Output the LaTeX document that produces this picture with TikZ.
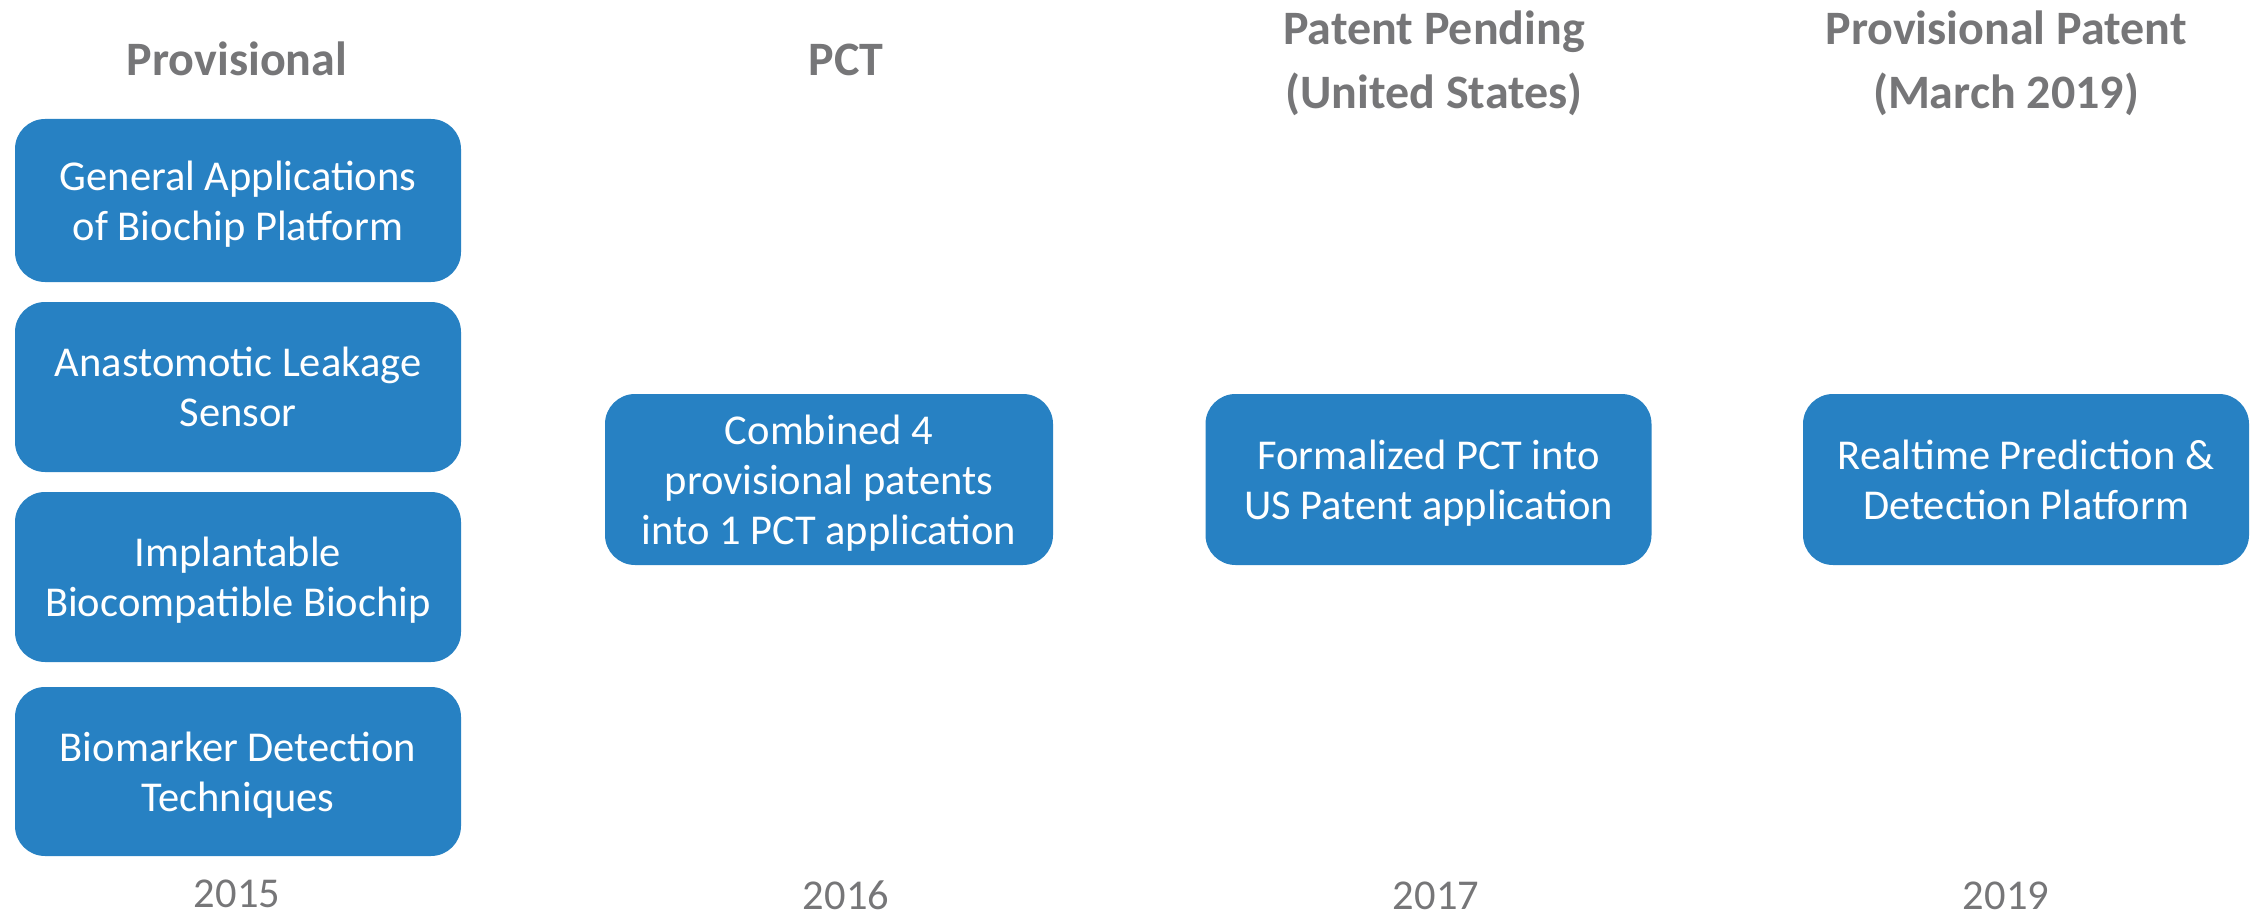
\documentclass[tikz,border=0pt]{standalone}
\usepackage{fontspec}
\setmainfont{Carlito}
\definecolor{boxblue}{RGB}{39,129,195}
\definecolor{hdrgray}{RGB}{118,118,120}
\tikzset{
  pbox/.style={rectangle, rounded corners=30pt, fill=boxblue, draw=none, text=white,
    align=center, inner sep=0pt, text depth=0pt, font=\fontsize{42.5}{50}\selectfont},
  hdr/.style={anchor=base, align=center, text=hdrgray, inner sep=0pt,
    font=\fontsize{48}{64}\selectfont\bfseries},
  yr/.style={anchor=base, text=hdrgray, inner sep=0pt, font=\fontsize{42.5}{50}\selectfont}
}
\begin{document}
\begin{tikzpicture}[x=1pt,y=-1pt]
\useasboundingbox (0,0) rectangle (2259,912);
% headers
\node[hdr] (h1) at (237,76) {Provisional};
\node[hdr] (h2) at (846,76) {PCT};
\node[hdr] (h3) at (1434,109) {Patent Pending\\(United States)};
\node[hdr] (h4) at (2006,109) {Provisional Patent\\(March 2019)};
% left column
\node[pbox, minimum width=446pt, minimum height=163pt] (b1) at (238,200.5) {General Applications\\of Biochip Platform};
\node[pbox, minimum width=446pt, minimum height=170pt] (b2) at (238,387) {Anastomotic Leakage\\Sensor};
\node[pbox, minimum width=446pt, minimum height=170pt] (b3) at (238,577) {Implantable\\Biocompatible Biochip};
\node[pbox, minimum width=446pt, minimum height=169pt] (b4) at (238,771.5) {Biomarker Detection\\Techniques};
% other columns
\node[pbox, minimum width=448pt, minimum height=171pt] (c2) at (829,479.5) {Combined 4\\provisional patents\\into 1 PCT application};
\node[pbox, minimum width=446pt, minimum height=171pt] (c3) at (1428.5,479.5) {Formalized PCT into\\US Patent application};
\node[pbox, minimum width=446pt, minimum height=171pt] (c4) at (2026,479.5) {Realtime Prediction \&\\Detection Platform};
% years
\node[yr] (y1) at (237,907) {2015};
\node[yr] (y2) at (846,909) {2016};
\node[yr] (y3) at (1436,909) {2017};
\node[yr] (y4) at (2006,909) {2019};
\end{tikzpicture}
\end{document}
